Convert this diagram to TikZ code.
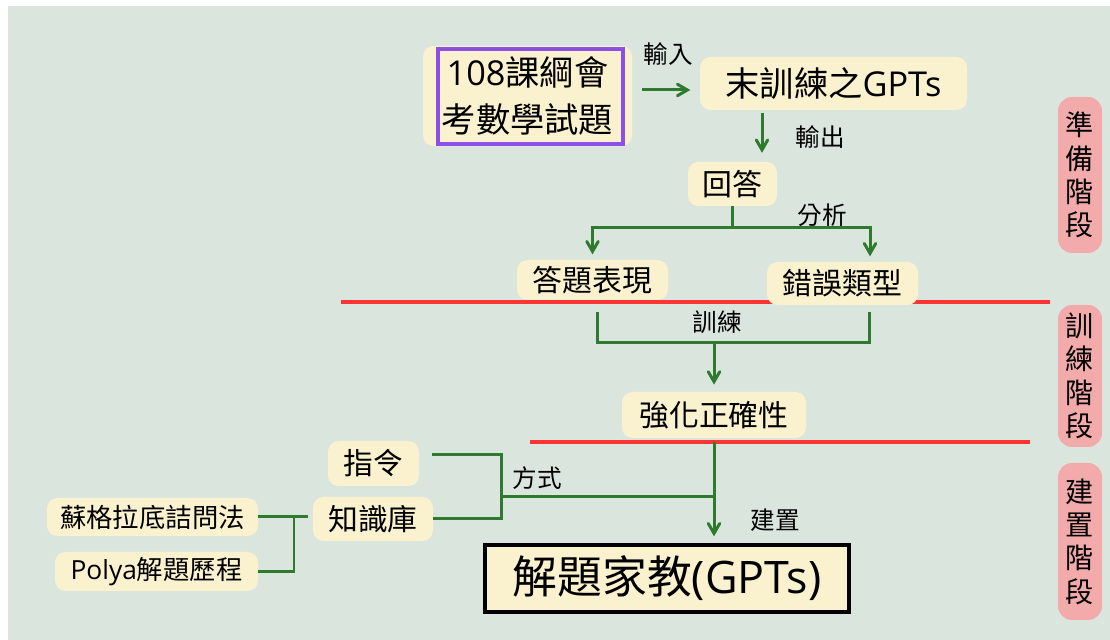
\documentclass[tikz,border=0pt]{standalone}
\usepackage{fontspec}
\setmainfont{Noto Sans CJK TC}
\newfontfamily\latinfont{Open Sans}
\usetikzlibrary{arrows}
\usetikzlibrary{positioning}
\definecolor{paper}{RGB}{218,230,221}
\definecolor{cream}{RGB}{250,241,207}
\definecolor{flowgreen}{RGB}{46,122,46}
\definecolor{barred}{RGB}{252,52,52}
\definecolor{framepurple}{RGB}{140,80,230}
\definecolor{phasepink}{RGB}{242,170,170}
\tikzset{card/.style={rectangle,fill=cream,rounded corners=6pt,inner sep=0pt,font=\fontsize{17}{20}\selectfont}}
\tikzset{smallcard/.style={card,font=\fontsize{15}{18}\selectfont}}
\tikzset{phase/.style={rectangle,fill=phasepink,rounded corners=8pt,minimum width=0.88cm,align=center,inner sep=0pt,font=\fontsize{16}{19}\selectfont}}
\tikzset{flow/.style={draw=flowgreen,line width=1.7pt,>=angle 60}}
\tikzset{bar/.style={draw=barred,line width=2pt}}
\tikzset{tag/.style={font=\fontsize{14}{16}\selectfont,inner sep=0pt}}

\begin{document}
\begin{tikzpicture}
  \useasboundingbox (0,0) rectangle (22.2,12.8);
  \fill[paper] (0.16,0) rectangle (22.2,12.68);

  % Phases
  \node[phase,minimum height=3.12cm] (prep)  at (21.6,9.3)  {準\\備\\階\\段};
  \node[phase,minimum height=2.84cm] (train) at (21.6,5.28) {訓\\練\\階\\段};
  \node[phase,minimum height=3.14cm] (build) at (21.6,1.97) {建\\置\\階\\段};

  % Stage borders
  \draw[bar] (6.82,6.76) -- (21.0,6.76);
  \draw[bar] (10.6,3.96) -- (20.6,3.96);

  % Nodes
  \node[card,minimum width=4.18cm,minimum height=2.0cm,align=center,
        font=\fontsize{19.5}{26.5}\selectfont] (src) at (10.55,10.88) {{\latinfont 108}課綱會\\考數學試題};
  \node[draw=framepurple,line width=2.2pt,minimum width=3.7cm,minimum height=1.9cm] (srcframe) at (10.61,10.87) {};
  \node[card,minimum width=5.34cm,minimum height=1.06cm,font=\fontsize{19.5}{22}\selectfont] (gpt) at (16.67,11.13) {末訓練之{\latinfont GPTs}};
  \node[card,minimum width=1.78cm,minimum height=0.88cm] (ans) at (14.65,9.12) {回答};
  \node[card,minimum width=3.02cm,minimum height=0.8cm] (perf) at (11.85,7.2) {答題表現};
  \node[card,minimum width=3.02cm,minimum height=0.86cm] (err) at (16.85,7.13) {錯誤類型};
  \node[card,minimum width=3.68cm,minimum height=0.92cm] (acc) at (14.28,4.5) {強化正確性};
  \node[card,minimum width=1.82cm,minimum height=0.9cm] (cmd) at (7.47,3.53) {指令};
  \node[card,minimum width=2.4cm,minimum height=0.88cm] (kb) at (7.46,2.42) {知識庫};
  \node[smallcard,minimum width=4.22cm,minimum height=0.76cm] (soc) at (3.05,2.46) {蘇格拉底詰問法};
  \node[smallcard,minimum width=4.06cm,minimum height=0.78cm] (polya) at (3.13,1.37) {{\latinfont Polya}解題歷程};
  \node[rectangle,draw=black,fill=cream,line width=1.8pt,minimum width=7.28cm,minimum height=1.34cm,
        font=\fontsize{25.5}{28}\selectfont] (tutor) at (13.34,1.23) {解題家教{\latinfont (GPTs)}};

  % Labels
  \node[tag] (inLbl)    at (13.36,11.72) {輸入};
  \node[tag] (outLbl)   at (16.4,10.06)  {輸出};
  \node[tag] (splitLbl) at (16.44,8.5)   {分析};
  \node[tag] (trainLbl) at (14.34,6.36)  {訓練};
  \node[tag] (wayLbl)   at (10.74,3.24)  {方式};
  \node[tag] (setLbl)   at (15.5,2.4)    {建置};

  % Connectors
  \draw[flow,->] ([xshift=0.2cm,yshift=0.12cm]src.east) -- ++(0.96,0);
  \draw[flow,->,shorten >=2pt] ([xshift=-1.43cm,yshift=-0.06cm]gpt.south) -- ++(0,-0.86);
  \draw[flow,->,shorten >=3pt] (ans.south) -- ++(0,-0.42) coordinate (fork) -| (perf.north);
  \draw[flow,->,shorten >=3pt] (fork) -| ([xshift=0.55cm]err.north);
  \draw[flow] ([xshift=0.09cm,yshift=-0.24cm]perf.south) -- ++(0,-0.6) coordinate (trainL)
    -| ([xshift=0.53cm,yshift=-0.14cm]err.south);
  \draw[flow,->,shorten >=4pt] (acc.north |- trainL) -- (acc.north);
  \draw[flow,->,shorten >=4pt] ([yshift=-0.08cm]acc.south) -- (acc.south |- tutor.north);

  \coordinate (hub) at (10.02,2.86);
  \draw[flow] ([xshift=0.26cm,yshift=0.17cm]cmd.east) -| (hub) |- (kb.east);
  \draw[flow] (hub) -- (hub -| acc.south);

  \coordinate (knot) at (5.88,2.46);
  \draw[flow,shorten >=0.1cm] (soc.east) -- (soc.east -| kb.west);
  \draw[flow] (polya.east) -| (knot);
\end{tikzpicture}
\end{document}
